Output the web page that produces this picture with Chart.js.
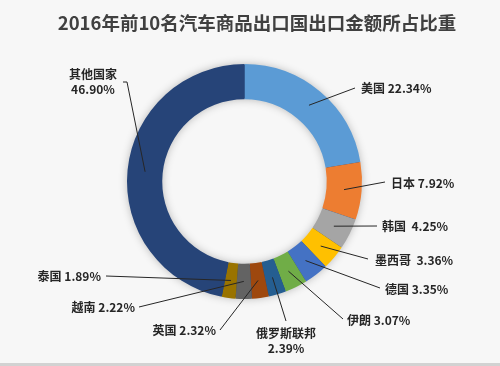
<!DOCTYPE html>
<html lang="zh">
<head>
  <meta charset="UTF-8" />
  <title>2016年前10名汽车商品出口国出口金额所占比重</title>
  <script src="https://cdn.jsdelivr.net/npm/chart.js"></script>
  <style>
    html, body {
      margin: 0;
      padding: 0;
      background: #f7f7f7;
    }
    .wrap {
      width: 500px;
      height: 363px;
      border-bottom: 3px solid #d2d2d2;
      position: relative;
    }
  </style>
</head>
<body>
  <div class="wrap">
    <canvas id="shareChart"></canvas>
  </div>

  <script>
    // 数据
    const chartTitle = '2016年前10名汽车商品出口国出口金额所占比重';
    const countries = ['美国', '日本', '韩国', '墨西哥', '德国', '伊朗', '俄罗斯联邦', '英国', '越南', '泰国', '其他国家'];
    const shares = [22.34, 7.92, 4.25, 3.36, 3.35, 3.07, 2.39, 2.32, 2.22, 1.89, 46.90];
    const colors = ['#5b9bd5', '#ed7d31', '#a5a5a5', '#ffc000', '#4472c4', '#70ad47',
                    '#255e91', '#9e480e', '#636363', '#997300', '#264478'];

    // 标签位置: 文本 x, y, 对齐, 引线终点 x, y, 分隔符, 是否两行
    const labelLayout = [
      { tx: 361, ty: 88,  align: 'left',   lx: 355, ly: 88 },
      { tx: 391, ty: 183, align: 'left',   lx: 385, ly: 182 },
      { tx: 382, ty: 226, align: 'left',   lx: 377, ly: 226, sep: '  ' },
      { tx: 375, ty: 260, align: 'left',   lx: 368, ly: 259, sep: '  ' },
      { tx: 385, ty: 289, align: 'left',   lx: 380, ly: 288 },
      { tx: 347, ty: 320, align: 'left',   lx: 343, ly: 319 },
      { tx: 286, ty: 333, align: 'center', lx: 286, ly: 321, twoLines: true },
      { tx: 216, ty: 330, align: 'right',  lx: 220, ly: 330 },
      { tx: 135, ty: 307, align: 'right',  lx: 139, ly: 307 },
      { tx: 101, ty: 276, align: 'right',  lx: 106, ly: 276 },
      { tx: 93,  ty: 74,  align: 'center', lx: 123, ly: 82, elbow: 127, twoLines: true }
    ];

    const ringShadow = {
      id: 'ringShadow',
      beforeDatasetsDraw(chart) {
        const arc = chart.getDatasetMeta(0).data[0];
        if (!arc) return;
        const { x, y, innerRadius, outerRadius } = arc.getProps(['x', 'y', 'innerRadius', 'outerRadius'], true);
        const ctx = chart.ctx;
        ctx.save();
        ctx.shadowColor = 'rgba(0,0,0,0.3)';
        ctx.shadowBlur = 10;
        ctx.fillStyle = '#264478';
        ctx.beginPath();
        ctx.arc(x, y, outerRadius - 1, 0, Math.PI * 2);
        ctx.arc(x, y, innerRadius + 1, Math.PI * 2, 0, true);
        ctx.closePath();
        ctx.fill();
        ctx.restore();
      }
    };

    const leaderLabels = {
      id: 'leaderLabels',
      afterDraw(chart) {
        const ctx = chart.ctx;
        const meta = chart.getDatasetMeta(0);
        ctx.save();

        // 标题
        ctx.fillStyle = '#404040';
        ctx.font = 'bold 18.5px "Noto Sans CJK SC", sans-serif';
        ctx.textAlign = 'center';
        ctx.textBaseline = 'middle';
        ctx.fillText(chartTitle, 257, 23);

        ctx.font = 'bold 12px "Noto Sans CJK SC", sans-serif';
        meta.data.forEach((arc, i) => {
          const p = arc.getProps(['x', 'y', 'startAngle', 'endAngle', 'innerRadius', 'outerRadius'], true);
          const mid = (p.startAngle + p.endAngle) / 2;
          const r = (p.innerRadius + p.outerRadius) / 2;
          const ax = p.x + Math.cos(mid) * r;
          const ay = p.y + Math.sin(mid) * r;
          const L = labelLayout[i];

          ctx.strokeStyle = '#262626';
          ctx.lineWidth = 1;
          ctx.beginPath();
          ctx.moveTo(ax, ay);
          if (L.elbow) {
            ctx.lineTo(L.elbow, L.ly);
          }
          ctx.lineTo(L.lx, L.ly);
          ctx.stroke();

          const pct = shares[i].toFixed(2) + '%';
          ctx.fillStyle = '#262626';
          ctx.textAlign = L.align;
          ctx.textBaseline = 'middle';
          if (L.twoLines) {
            ctx.fillText(countries[i], L.tx, L.ty);
            ctx.fillText(pct, L.tx, L.ty + 15);
          } else {
            ctx.fillText(countries[i] + (L.sep || ' ') + pct, L.tx, L.ty);
          }
        });
        ctx.restore();
      }
    };

    new Chart(document.getElementById('shareChart').getContext('2d'), {
      type: 'doughnut',
      data: {
        labels: countries,
        datasets: [{
          data: shares,
          backgroundColor: colors,
          borderWidth: 0
        }]
      },
      options: {
        responsive: true,
        maintainAspectRatio: false,
        animation: false,
        cutout: '70%',
        layout: { padding: { left: 127, right: 138, top: 64, bottom: 64 } },
        plugins: {
          legend: { display: false },
          tooltip: { enabled: false },
          title: { display: false }
        }
      },
      plugins: [ringShadow, leaderLabels]
    });
  </script>
</body>
</html>
